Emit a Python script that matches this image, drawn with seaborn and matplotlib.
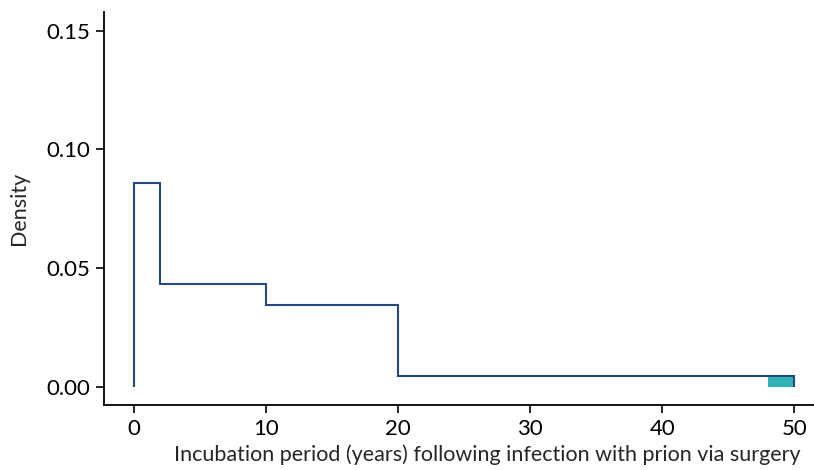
import numpy as np
import pandas as pd
import matplotlib
matplotlib.use("Agg")
import matplotlib.pyplot as plt
import seaborn as sns

# Data
bin_edges = [0, 2, 10, 20, 50]
density = [0.0859, 0.0433, 0.0343, 0.0045]
highlight_edges = [48, 50]
highlight_density = [0.0042]
xticks = [0, 10, 20, 30, 40, 50]
yticks = [0.00, 0.05, 0.10, 0.15]

sns.set_theme(style="ticks")
plt.rcParams['font.family'] = ['Lato', 'DejaVu Sans']

fig = plt.figure(figsize=(8.14, 4.70), dpi=100)
ax = fig.add_axes([0.1278, 0.138, 1.0 - 0.1278, 0.974 - 0.138])

# highlighted bar (seaborn histogram with one weighted bin)
hl = pd.DataFrame({"x": [np.mean(highlight_edges)], "w": highlight_density})
sns.histplot(data=hl, x="x", weights="w", bins=highlight_edges, stat="count",
             element="bars", fill=True, color="#33b0b3", alpha=1, linewidth=0,
             ax=ax)

# step outline of the density histogram
ax.stairs(density, bin_edges, color="#23497f", linewidth=1.5, zorder=3)

ax.set_xlim(-2.27, 51.5)
ax.set_ylim(-0.0077, 0.1578)
ax.set_xticks(xticks)
ax.set_yticks(yticks)
ax.set_yticklabels([f"{v:.2f}" for v in yticks])
ax.tick_params(labelsize=16, length=6, width=1.2, colors="black", pad=4)
ax.set_xlabel("Incubation period (years) following infection with prion via surgery",
              fontsize=15.5)
ax.set_ylabel("Density", fontsize=15.5)
ax.xaxis.set_label_coords((487 - 104) / 710, -0.1)
ax.yaxis.set_label_coords((29 - 104) / 710, 0.5)
for s in ["top", "right"]:
    ax.spines[s].set_visible(False)
for s in ["left", "bottom"]:
    ax.spines[s].set_color("black")
    ax.spines[s].set_linewidth(1.3)

fig.savefig("out.png", dpi=100)
